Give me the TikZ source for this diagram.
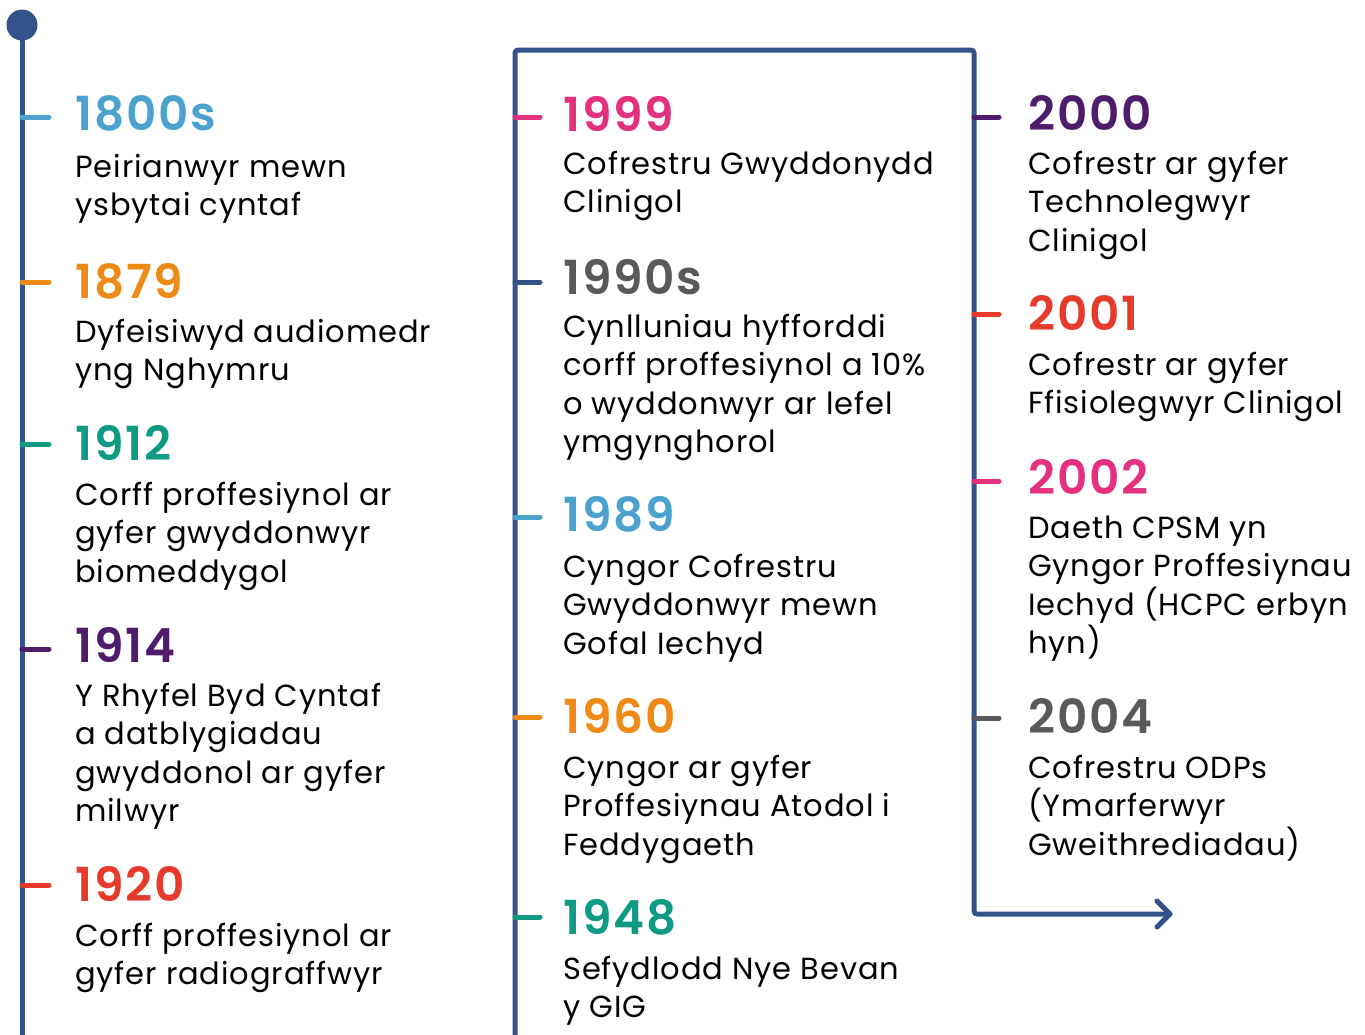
\documentclass[tikz,border=0pt]{standalone}
\usepackage{fontspec}
\setmainfont{Poppins}[BoldFont={* SemiBold}]
\definecolor{navy}{HTML}{34538B}
\definecolor{lblue}{HTML}{4BA2CF}
\definecolor{orng}{HTML}{EF8A17}
\definecolor{teal}{HTML}{0E9A83}
\definecolor{purp}{HTML}{4F1C6B}
\definecolor{redc}{HTML}{E63B2A}
\definecolor{pink}{HTML}{E3307F}
\definecolor{greyc}{HTML}{595959}
\begin{document}
\begin{tikzpicture}[x=1pt,y=-1pt,
  mainline/.style={draw=navy, line width=5pt, line cap=round, line join=round, rounded corners=3pt},
  tickmark/.style={line width=5pt, line cap=round},
  year/.style={anchor=base west, inner sep=0pt, font=\fontsize{47}{47}\selectfont\bfseries\addfontfeature{LetterSpace=4}},
  body/.style={anchor=base west, inner sep=0pt, font=\fontsize{30.5}{38.5}\selectfont\addfontfeature{LetterSpace=3}},
]
\useasboundingbox (0,0) rectangle (1365,1034);
\fill[white] (0,0) rectangle (1365,1034);

% main lines
\node[circle, fill=navy, minimum size=31pt, inner sep=0pt] (dot) at (22,25) {};
\coordinate (lbot) at (22,1040);
\draw[mainline] (dot.center) -- (lbot);
\coordinate (mbot) at (515,1040);
\coordinate (mtop) at (515,50);
\coordinate (rtop) at (974,50);
\coordinate (rbot) at (974,914);
\coordinate (tip) at (1170,914);
\draw[mainline] (mbot) -- (mtop) -- (rtop) -- (rbot) -- (tip);
\draw[mainline, rounded corners=0pt] ([shift={(-13,-13)}]tip) -- (tip) -- ([shift={(-13,13)}]tip);

% ---------- left column ----------
\draw[tickmark, lblue] (22,117) -- (49,117);
\node[year, lblue] (y1) at (75,130) {1800s};
\node[body] (b1) at (75,177) {\parbox[t]{420pt}{Peirianwyr mewn\\ysbytai cyntaf}};

\draw[tickmark, orng] (22,282) -- (49,282);
\node[year, orng] (y2) at (75,298) {1879};
\node[body] (b2) at (75,342) {\parbox[t]{420pt}{Dyfeisiwyd audiomedr\\yng Nghymru}};

\draw[tickmark, teal] (22,444) -- (49,444);
\node[year, teal] (y3) at (75,460) {1912};
\node[body] (b3) at (75,505) {\parbox[t]{420pt}{Corff proffesiynol ar\\gyfer gwyddonwyr\\biomeddygol}};

\draw[tickmark, purp] (22,649) -- (49,649);
\node[year, purp] (y4) at (75,662) {1914};
\node[body] (b4) at (75,706) {\parbox[t]{420pt}{Y Rhyfel Byd Cyntaf\\a datblygiadau\\gwyddonol ar gyfer\\milwyr}};

\draw[tickmark, redc] (22,885) -- (49,885);
\node[year, redc] (y5) at (75,901) {1920};
\node[body] (b5) at (75,946) {\parbox[t]{420pt}{Corff proffesiynol ar\\gyfer radiograffwyr}};

% ---------- middle column ----------
\draw[tickmark, pink] (515,117) -- (540,117);
\node[year, pink] (y6) at (563,131) {1999};
\node[body] (b6) at (563,174) {\parbox[t]{400pt}{Cofrestru Gwyddonydd\\Clinigol}};

\draw[tickmark, navy] (515,282) -- (540,282);
\node[year, greyc] (y7) at (563,294) {1990s};
\node[body] (b7) at (563,337) {\parbox[t]{400pt}{Cynlluniau hyfforddi\\corff proffesiynol a 10\%\\o wyddonwyr ar lefel\\ymgynghorol}};

\draw[tickmark, lblue] (515,517) -- (540,517);
\node[year, lblue] (y8) at (563,531) {1989};
\node[body] (b8) at (563,577) {\parbox[t]{400pt}{Cyngor Cofrestru\\Gwyddonwyr mewn\\Gofal Iechyd}};

\draw[tickmark, orng] (515,717) -- (540,717);
\node[year, orng] (y9) at (563,733) {1960};
\node[body] (b9) at (563,778) {\parbox[t]{400pt}{Cyngor ar gyfer\\Proffesiynau Atodol i\\Feddygaeth}};

\draw[tickmark, teal] (515,917) -- (540,917);
\node[year, teal] (y10) at (563,934) {1948};
\node[body] (b10) at (563,979) {\parbox[t]{400pt}{Sefydlodd Nye Bevan\\y GIG}};

% ---------- right column ----------
\draw[tickmark, purp] (974,117) -- (999,117);
\node[year, purp] (y11) at (1028,130) {2000};
\node[body] (b11) at (1028,174) {\parbox[t]{340pt}{Cofrestr ar gyfer\\Technolegwyr\\Clinigol}};

\draw[tickmark, redc] (974,314) -- (999,314);
\node[year, redc] (y12) at (1028,330) {2001};
\node[body] (b12) at (1028,375) {\parbox[t]{340pt}{Cofrestr ar gyfer\\Ffisiolegwyr Clinigol}};

\draw[tickmark, pink] (974,481) -- (999,481);
\node[year, pink] (y13) at (1028,494) {2002};
\node[body] (b13) at (1028,538) {\parbox[t]{340pt}{Daeth CPSM yn\\Gyngor Proffesiynau\\Iechyd (HCPC erbyn\\hyn)}};

\draw[tickmark, greyc] (974,718) -- (999,718);
\node[year, greyc] (y14) at (1028,733) {2004};
\node[body] (b14) at (1028,778) {\parbox[t]{340pt}{Cofrestru ODPs\\(Ymarferwyr\\Gweithrediadau)}};
\end{tikzpicture}
\end{document}
